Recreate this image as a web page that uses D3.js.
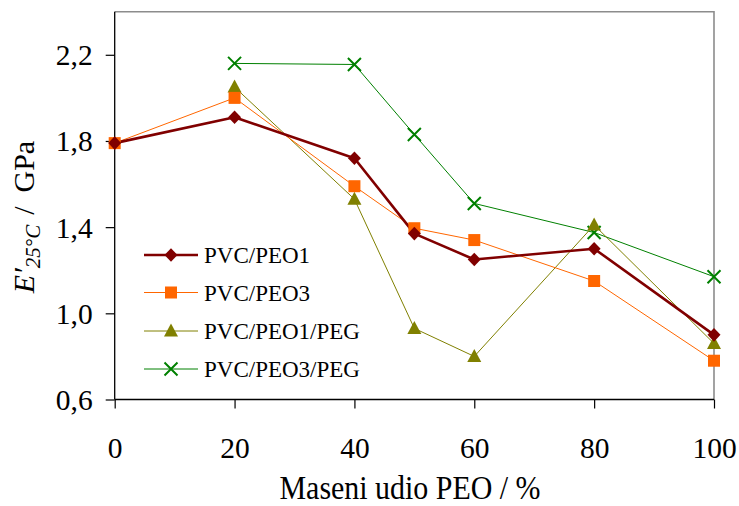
<!DOCTYPE html>
<html>
<head>
<meta charset="utf-8">
<script src="https://cdn.jsdelivr.net/npm/d3@7"></script>
<style>
  html, body { margin: 0; padding: 0; background: #fff; }
  svg { display: block; }
  text { font-family: "Liberation Serif", "Times New Roman", serif; fill: #000; }
</style>
</head>
<body>
<svg id="chart" width="739" height="506"></svg>
<script>
// ---- data ----
const xValues = [0, 20, 40, 50, 60, 80, 100];
const seriesNames = ["PVC/PEO1", "PVC/PEO3", "PVC/PEO1/PEG", "PVC/PEO3/PEG"];
const pvcPeo1 = [1.79, 1.91, 1.72, 1.37, 1.25, 1.30, 0.90];
const pvcPeo3 = [1.79, 2.00, 1.59, 1.395, 1.34, 1.15, 0.78];
const pvcPeo1Peg = [null, 2.05, 1.53, 0.93, 0.80, 1.41, 0.86];
const pvcPeo3Peg = [null, 2.16, 2.155, 1.83, 1.51, 1.375, 1.17];
const xTicks = [0, 20, 40, 60, 80, 100];
const yTicks = [0.6, 1.0, 1.4, 1.8, 2.2];

// ---- styles ----
const colors = ["#800000", "#FF6600", "#808000", "#008000"];
const widths = [2.6, 1, 1, 1];
const shapes = ["diamond", "square", "triangle", "cross"];
const FONT = '"Liberation Serif", "Times New Roman", serif';

const svg = d3.select("#chart");
const m = { left: 114.7, top: 11.7, right: 714, bottom: 399.5 };

const x = d3.scaleLinear().domain([0, 100]).range([m.left, m.right]);
const y = d3.scaleLinear().domain([0.6, 2.4]).range([m.bottom, m.top]);

// plot frame (top & right gray)
svg.append("path")
  .attr("d", `M${m.left},${m.top}H${m.right}V${m.bottom}`)
  .attr("fill", "none").attr("stroke", "#8c8c8c").attr("stroke-width", 1.6);

// axes
const fmt = d => d3.format(".1f")(d).replace(".", ",");
const yAxis = svg.append("g").attr("transform", `translate(${m.left},0)`)
  .call(d3.axisLeft(y).tickValues(yTicks).tickSize(9).tickPadding(14).tickFormat(fmt));
const xAxis = svg.append("g").attr("transform", `translate(0,${m.bottom})`)
  .call(d3.axisBottom(x).tickValues(xTicks).tickSize(9).tickPadding(15).tickFormat(d3.format("d")));
[yAxis, xAxis].forEach(a => {
  a.attr("font-family", FONT);
  a.select(".domain").attr("stroke", "#000").attr("stroke-width", 1.3);
  a.selectAll(".tick line").attr("stroke", "#000").attr("stroke-width", 1.2);
  a.selectAll("text").style("font-family", FONT).style("font-size", "29.5px").attr("fill", "#000");
});
yAxis.selectAll(".domain").attr("d", `M0,${m.bottom}V${m.top}`);
xAxis.selectAll(".domain").attr("d", `M${m.left},0H${m.right}`);
xAxis.selectAll(".tick text").attr("dy", "0.71em").attr("y", 38);
yAxis.selectAll(".tick text").attr("x", -22).attr("dy", "0.34em");

// symbols
function drawSymbol(g, shape, cx, cy, color) {
  if (shape === "diamond") {
    g.append("path").attr("d", `M${cx},${cy - 6.8}L${cx + 6.5},${cy}L${cx},${cy + 6.8}L${cx - 6.5},${cy}Z`).attr("fill", color);
  } else if (shape === "square") {
    g.append("rect").attr("x", cx - 6).attr("y", cy - 6).attr("width", 12).attr("height", 12).attr("fill", color);
  } else if (shape === "triangle") {
    g.append("path").attr("d", `M${cx},${cy - 7.5}L${cx + 7},${cy + 5.5}L${cx - 7},${cy + 5.5}Z`).attr("fill", color);
  } else {
    g.append("path").attr("d", `M${cx - 6.5},${cy - 6.5}L${cx + 6.5},${cy + 6.5}M${cx - 6.5},${cy + 6.5}L${cx + 6.5},${cy - 6.5}`)
      .attr("stroke", color).attr("stroke-width", 2).attr("fill", "none");
  }
}

const allSeries = [pvcPeo1, pvcPeo3, pvcPeo1Peg, pvcPeo3Peg];
const line = d3.line().defined(d => d[1] != null).x(d => x(d[0])).y(d => y(d[1]));

const order = [3, 2, 1, 0];
order.forEach(i => {
  const pts = xValues.map((xv, k) => [xv, allSeries[i][k]]);
  svg.append("path").datum(pts).attr("d", line)
    .attr("fill", "none").attr("stroke", colors[i]).attr("stroke-width", widths[i]).attr("stroke-linejoin", "round");
});
order.forEach(i => {
  const g = svg.append("g");
  xValues.forEach((xv, k) => {
    const v = allSeries[i][k];
    if (v != null) drawSymbol(g, shapes[i], x(xv), y(v), colors[i]);
  });
});

// legend
const legY = [255, 292.5, 331, 369];
seriesNames.forEach((name, i) => {
  const g = svg.append("g");
  g.append("line").attr("x1", 144).attr("x2", 198).attr("y1", legY[i]).attr("y2", legY[i])
    .attr("stroke", colors[i]).attr("stroke-width", widths[i]);
  drawSymbol(g, shapes[i], 171, legY[i], colors[i]);
  g.append("text").attr("x", 204).attr("y", legY[i]).attr("dy", "0.35em")
    .style("font-family", FONT).style("font-size", "23px").text(name);
});

// x title
svg.append("text").attr("x", 410).attr("y", 499).attr("text-anchor", "middle")
  .attr("textLength", 261).attr("lengthAdjust", "spacingAndGlyphs")
  .style("font-family", FONT).style("font-size", "33px").text("Maseni udio PEO / %");

// y title
const yt = svg.append("text")
  .attr("transform", "translate(34,217) rotate(-90)")
  .attr("text-anchor", "middle")
  .style("font-family", FONT).style("font-size", "30px");
yt.append("tspan").style("font-style", "italic").text("E′");
yt.append("tspan").style("font-style", "italic").style("font-size", "21px").attr("dy", 6).text("25°C");
yt.append("tspan").attr("dy", -6).attr("dx", 10).text("/");
yt.append("tspan").attr("dx", 14).text("GPa");
</script>
</body>
</html>
